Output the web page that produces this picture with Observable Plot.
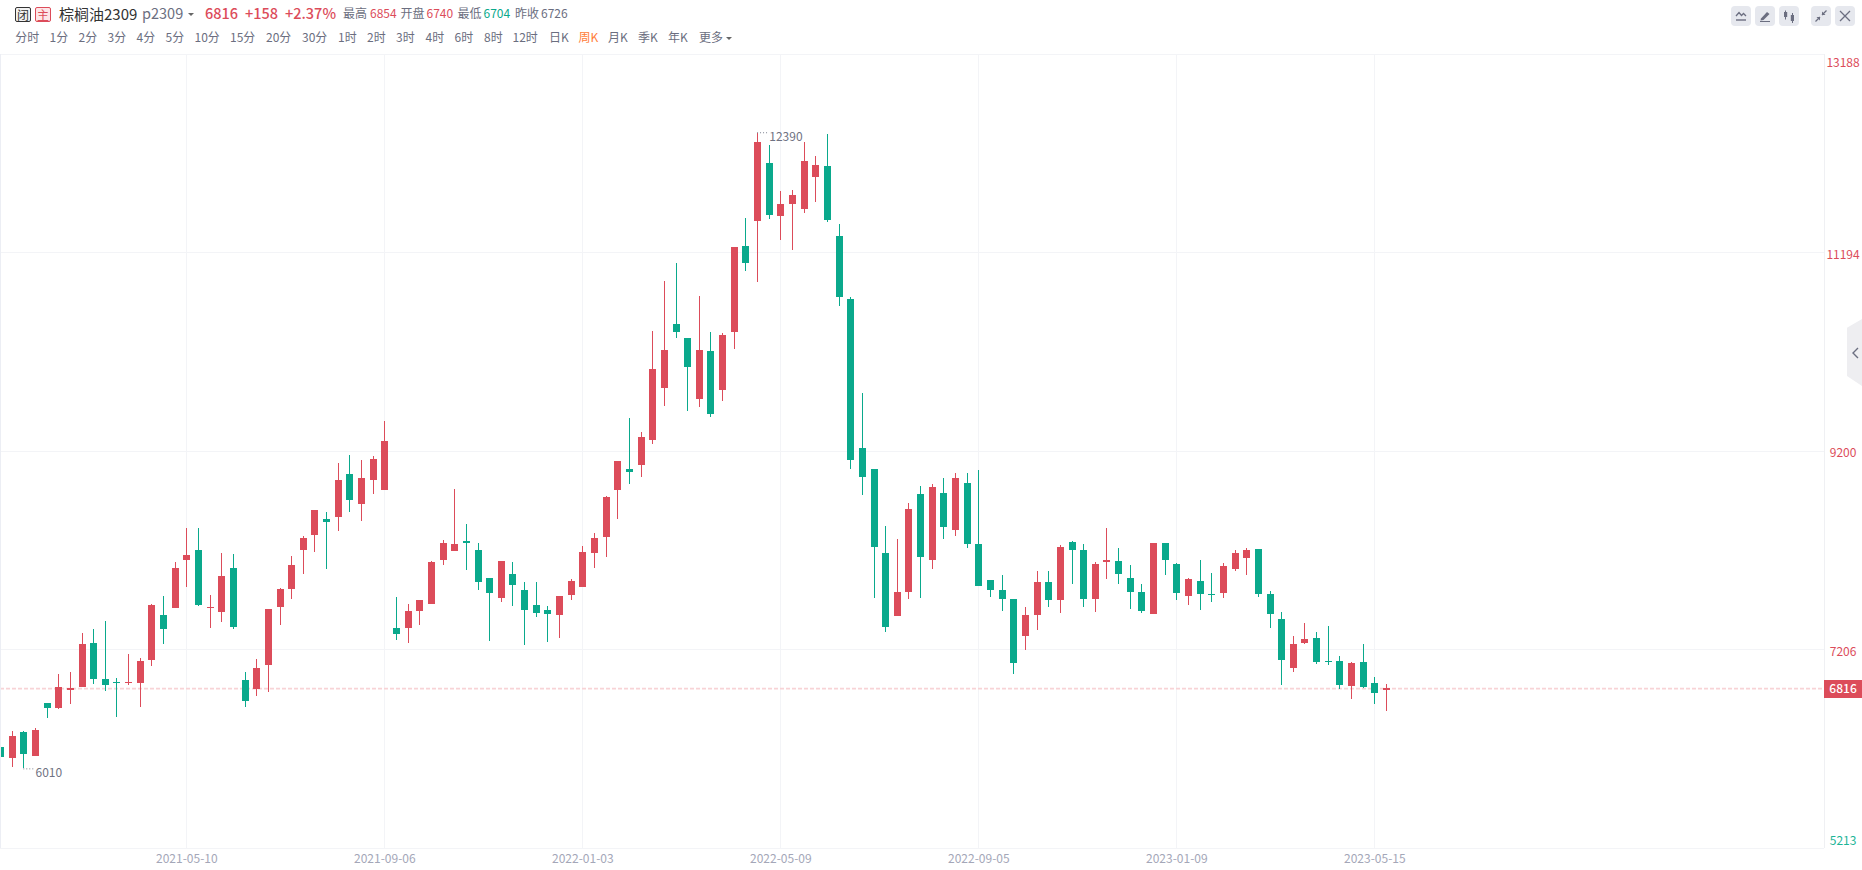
<!DOCTYPE html>
<html>
<head>
<meta charset="utf-8">
<script src="https://cdn.jsdelivr.net/npm/d3@7"></script>
<script src="https://cdn.jsdelivr.net/npm/@observablehq/plot@0.6"></script>
<style>
html,body{margin:0;padding:0;background:#fff;overflow:hidden;font-family:"Noto Sans CJK SC","Noto Sans",sans-serif;}
#head{position:relative;height:52px;width:1862px;}
.t{position:absolute;white-space:nowrap;line-height:1;transform:translateY(-50%);}
.box{position:absolute;box-sizing:border-box;width:16px;height:15px;top:7px;border-radius:2px;font-size:12px;line-height:13px;text-align:center;}
.caret{position:absolute;width:0;height:0;border-left:3px solid transparent;border-right:3px solid transparent;border-top:3px solid #666;}
.btn{position:absolute;top:6px;width:20px;height:20px;border-radius:4px;background:#e6e8ee;}
.btn svg{position:absolute;left:0;top:0;}
#tab{position:absolute;left:1847px;top:319px;width:15px;height:67px;background:#eeeef1;clip-path:polygon(100% 0,0 13%,0 85%,100% 100%);}
#chart svg{display:block;}
</style>
</head>
<body>
<div id="head"></div>
<div id="chart"></div>
<div id="tab"><svg width="15" height="67"><path d="M11 29 L6 34 L11 39" fill="none" stroke="#6b6e80" stroke-width="1.4"/></svg></div>
<script>
// Weekly candles
const opens = [6228,6118,6375,6138,6667,6617,6801,6828,7270,6908,6878,6868,6871,7102,7551,7625,8107,8204,7621,7584,
8023,6898,6811,7052,7635,7815,8207,8358,8515,8539,8967,8666,8907,8806,7420,7420,7591,7661,8103,8193,
8294,8203,7922,7721,7962,7802,7651,7601,7551,7751,7832,8173,8334,8806,9017,9057,9309,9831,10474,10333,
9721,10203,9811,10394,11257,11509,12091,11559,11679,11629,11950,12061,11358,10725,9229,9018,8174,7541,7782,8767,
8104,8777,8405,8877,8264,7903,7802,7712,7340,7551,7883,7702,8284,8204,7712,8084,8094,7923,7782,7561,
8274,8063,7742,7892,7762,7772,8013,8123,8214,7762,7511,7019,7270,7320,7089,7089,6838,7079,6868,6798];
const closes = [6128,6335,6158,6396,6620,6828,6818,7260,6911,6851,6868,6878,7089,7651,7414,8023,8154,7655,7631,7943,
7434,6690,7019,7611,7812,8053,8324,8605,8488,8907,8706,8927,9118,9299,7360,7591,7701,8083,8274,8264,
8274,7882,7772,8093,7852,7601,7571,7561,7741,7892,8183,8324,8736,9097,8987,9338,10022,10213,10394,10042,
10213,9570,10364,11247,11087,12302,11569,11679,11770,12111,12071,11519,10745,9108,8937,8234,7431,7782,8616,8134,
8837,8435,8927,8264,7842,7802,7712,7069,7551,7883,7702,8234,8204,7712,8064,8104,7963,7782,7591,8274,
8103,7772,7913,7762,7752,8043,8174,8204,7762,7561,7099,7260,7310,7079,7079,6848,7069,6828,6768,6816];
const highs = [6228,6385,6385,6412,6667,6958,6978,7370,7410,7491,6918,7159,7119,7661,7742,8083,8425,8425,7752,8174,
8164,6978,7109,7611,7822,8144,8344,8605,8585,9078,9158,9108,9148,9500,7731,7661,7701,8093,8304,8816,
8465,8274,7922,8093,8083,7882,7882,7641,7741,7912,8244,8374,8746,9097,9529,9389,10404,10906,11087,10333,
10755,10394,10384,11247,11539,12390,12272,11810,11820,12302,12161,12380,11478,10745,9781,9018,8445,8315,8676,8847,
8867,8927,8978,8978,9008,7903,7953,7712,7632,7993,7993,8254,8295,8264,8084,8425,8224,8053,7862,8274,
8274,8073,7923,8103,7973,8073,8204,8224,8214,7792,7581,7340,7471,7380,7440,7139,7079,7260,6928,6854];
const lows = [6128,6027,6010,6135,6520,6607,6660,6828,6858,6791,6530,6851,6630,7042,7263,7625,7836,7645,7424,7484,
7414,6630,6741,6781,7454,7715,7966,8187,8016,8398,8586,8498,8766,8806,7299,7269,7450,7661,8053,8193,
8003,7802,7289,7681,7641,7249,7530,7279,7320,7701,7832,8023,8133,8515,8866,8937,9269,9650,10333,9600,
9640,9540,9701,10223,11006,10896,11529,11318,11217,11589,11699,11499,10655,9018,8757,7722,7381,7541,7712,7722,
8013,8315,8345,8224,7842,7732,7591,6959,7200,7401,7632,7571,7863,7632,7581,7913,7863,7612,7571,7561,
7953,7702,7651,7601,7682,7722,7993,7953,7732,7420,6848,6978,7260,7059,7049,6808,6707,6818,6657,6587];

const priceTicks = [13188,11194,9200,7206,5213];
const lastPrice = 6816;
const dateTickIndex = [16,33,50,67,84,101,118];
const dateTickLabels = ["2021-05-10","2021-09-06","2022-01-03","2022-05-09","2022-09-05","2023-01-09","2023-05-15"];
const noteIndex = [2,65];
const noteValue = [6010,12390];

const periods = ["分时","1分","2分","3分","4分","5分","10分","15分","20分","30分","1时","2时","3时","4时","6时","8时","12时","日K","周K","月K","季K","年K","更多"];
const periodLeft = [15.3,49.5,78.5,107.5,136.5,165.5,194.5,230,266,302,338,367,396,425.5,454.5,484,512.5,549,578.5,608,638,668,699];

const RED = "#dc4c5a", GREEN = "#0aa98c", GRID = "#f3f4f7", PINK = "#f8d3d6", GREY = "#6b6e80";

// ---- header
const head = document.getElementById("head");
function put(text,left,top,size,color,weight){
  const s=document.createElement("span");s.className="t";s.textContent=text;
  s.style.cssText=`left:${left}px;top:${top}px;font-size:${size}px;color:${color};font-weight:${weight||400}`;
  head.appendChild(s);
}
function box(text,left,border,bg,color){
  const s=document.createElement("span");s.className="box";s.textContent=text;
  s.style.cssText=`left:${left}px;border:1px solid ${border};background:${bg};color:${color}`;
  head.appendChild(s);
}
function caret(left,top){const s=document.createElement("span");s.className="caret";s.style.cssText=`left:${left}px;top:${top}px`;head.appendChild(s);}
box("闭",15,"#333","#f2f2f2","#333");
box("主",35,RED,"#fde6e8",RED);
put("棕榈油2309",59,13,15,"#333");
put("p2309",142,13,14.5,"#6b6e80");
caret(188,13);
put("6816",205,13,14.5,RED,500);
put("+158",245,13,14.5,RED,500);
put("+2.37%",285,13,14.5,RED,500);
put("最高",343,13,12,GREY); put("6854",370,13,12,RED);
put("开盘",400.5,13,12,GREY); put("6740",426.5,13,12,RED);
put("最低",457.5,13,12,GREY); put("6704",483.5,13,12,GREEN);
put("昨收",515,13,12,GREY); put("6726",541,13,12,GREY);
periods.forEach((p,k)=>put(p,periodLeft[k],37,12,p==="周K"?"#ff7d3a":GREY));
caret(726,37);
const icons = [
 [1731,'<path d="M5 10 L8 6.5 L10.5 9.5 L12.5 7.5 L15 10" fill="none" stroke="#6b6e80" stroke-width="1.3"/><path d="M5 14h10" stroke="#6b6e80" stroke-width="1.4"/>'],
 [1755,'<path d="M6 12.5 L12 6 L14.5 8 L8.5 14 L5.5 14.5Z" fill="#6b6e80"/><path d="M5 15.5h10" stroke="#6b6e80" stroke-width="1"/>'],
 [1779,'<path d="M6.5 4.5v9M13.5 7v10" stroke="#6b6e80"/><rect x="5" y="6" width="3.2" height="5" fill="#6b6e80"/><rect x="11.8" y="9" width="3.2" height="6" fill="#6b6e80"/>'],
 [1811,'<path d="M15.5 4.5 L11 9 M4.5 15.5 L9 11" stroke="#6b6e80" stroke-width="1.3"/><path d="M11 5.5 V9 H14.5Z M5.5 11 H9 V14.5Z" fill="#6b6e80"/>'],
 [1835,'<path d="M5 5 L15 15 M15 5 L5 15" stroke="#6b6e80" stroke-width="1.3"/>']
];
icons.forEach(([l,p])=>{const d=document.createElement("div");d.className="btn";d.style.left=l+"px";d.innerHTML=`<svg width="20" height="20">${p}</svg>`;head.appendChild(d);});

// ---- chart
const candles = opens.map((o,i)=>({i,open:o,close:closes[i],high:highs[i],low:lows[i],dir:closes[i]>=o?"up":"down"}));
const axisEdge = 156.6, labelAt = 158.2, rightEnd = 159.87;
const labelOpts = {x:()=>labelAt,y:d=>d,text:d=>String(d),textAnchor:"middle",fontSize:12};
const noteDy = [4.3,3];
const leaderDy = [0,-1];

const plot = Plot.plot({
  width:1862,height:818,
  marginLeft:0,marginRight:0,marginTop:1.8,marginBottom:22.3,
  style:{fontFamily:'"Noto Sans CJK SC","Noto Sans",sans-serif',background:"#fff",overflow:"visible"},
  x:{type:"linear",domain:[0,rightEnd],axis:null},
  y:{type:"linear",domain:[5213,13188],axis:null},
  color:{type:"ordinal",domain:["up","down"],range:[RED,GREEN]},
  marks:[
    Plot.ruleY(priceTicks,{x1:()=>0,x2:()=>axisEdge,stroke:GRID,strokeWidth:1,shapeRendering:"crispEdges"}),
    Plot.ruleX(dateTickIndex,{y1:()=>5213,y2:()=>13188,stroke:GRID,strokeWidth:1,shapeRendering:"crispEdges"}),
    Plot.ruleX([axisEdge],{y1:()=>5213,y2:()=>13188,stroke:"#eff0f3",strokeWidth:1,shapeRendering:"crispEdges"}),
    Plot.ruleY([lastPrice],{x1:()=>0,x2:()=>axisEdge-0.15,stroke:PINK,strokeWidth:1.6,strokeDasharray:"4,2"}),
    Plot.ruleX(candles,{x:"i",y1:"low",y2:"high",stroke:"dir",strokeWidth:1,shapeRendering:"crispEdges"}),
    Plot.ruleX(candles,{x:"i",y1:"open",y2:"close",stroke:"dir",strokeWidth:7,shapeRendering:"crispEdges"}),
    Plot.ruleX([0],{y1:()=>5213,y2:()=>13188,stroke:"#eceef4",strokeWidth:1,shapeRendering:"crispEdges"}),
    // price labels
    Plot.text(priceTicks.slice(0,1),{...labelOpts,fill:RED,dy:9}),
    Plot.text(priceTicks.slice(1,4),{...labelOpts,fill:RED,dy:2.3}),
    Plot.text(priceTicks.slice(4),{...labelOpts,fill:"#1db597",dy:-7}),
    Plot.ruleY([lastPrice],{x1:()=>axisEdge-0.03,x2:()=>rightEnd,stroke:RED,strokeWidth:18,dy:0.8,shapeRendering:"crispEdges"}),
    Plot.text([lastPrice],{...labelOpts,fill:"#fff",dy:0.8,fontWeight:500}),
    // date labels
    Plot.text(dateTickIndex,{x:d=>d,y:()=>5213,text:(d,k)=>dateTickLabels[k],fill:"#a4a7b8",fontSize:12,dy:10.5,textAnchor:"middle"}),
    // extreme notes
    ...noteIndex.map((n,k)=>Plot.ruleY([noteValue[k]],{x1:()=>n,x2:()=>n+0.9,stroke:"#7d8090",strokeDasharray:"1,2",strokeWidth:1,dy:leaderDy[k]})),
    ...noteIndex.map((n,k)=>Plot.text([noteValue[k]],{x:()=>n,y:d=>d,text:d=>String(d),fill:"#6f7282",fontSize:12,textAnchor:"start",dx:11.7,dy:noteDy[k]})),
  ]
});
document.getElementById("chart").appendChild(plot);
</script>
</body>
</html>
